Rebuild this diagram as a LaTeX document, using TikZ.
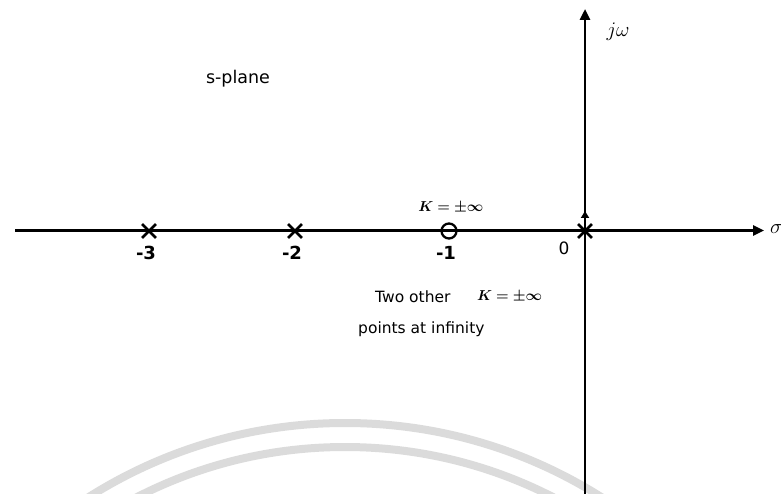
\documentclass[tikz,border=0pt]{standalone}
\usepackage{fontspec}
\usepackage{bm}
\setmainfont{DejaVu Sans}
\usetikzlibrary{arrows.meta,shapes.misc}
\begin{document}
\begin{tikzpicture}[x=1pt,y=-1pt,
  axis/.style={line width=2.6pt},
  tip/.style={-{Triangle[length=11pt,width=10pt]}},
  pole/.style={cross out,draw,minimum size=11pt,inner sep=0pt,line width=2.8pt},
  zero/.style={circle,draw,minimum size=15pt,inner sep=0pt,line width=2.3pt},
  num/.style={font=\fontsize{18}{20}\selectfont\bfseries,inner sep=0pt},
  txt/.style={font=\fontsize{15.5}{17}\selectfont,inner sep=0pt},
  kinf/.style={font=\fontsize{13.5}{15}\selectfont,inner sep=0pt},
  wm/.style={line width=8pt,color=black!14}]
\useasboundingbox (0,0) rectangle (781,494);
% faint watermark arcs
\begin{scope}
  \clip (0,0) rectangle (781,494);
  \draw[wm] (345,903) circle[radius=480pt];
  \draw[wm] (345,903) circle[radius=456pt];
\end{scope}
% axes
\coordinate (W) at (15,230.5);
\coordinate (E) at (764,230.5);
\coordinate (S) at (585,494);
\coordinate (N) at (585,9);
\coordinate (O) at (585,230.5);
\coordinate (U) at (585,211);
\draw[axis,tip] (W) -- (E);
\draw[axis,tip] (S) -- (N);
\draw[axis,-{Triangle[length=7pt,width=8pt]}] (O) -- (U);
% poles and zero
\node[pole] (p3) at (149,231) {};
\node[pole] (p2) at (295,231) {};
\node[pole] (p0) at (585,231) {};
\node[zero] (z1) at (449,231) {};
% labels
\node[num] (l3) at (146,253) {-3};
\node[num] (l2) at (292,253) {-2};
\node[num] (l1) at (446,253) {-1};
\node[font=\fontsize{17}{19}\selectfont,inner sep=0pt] (l0) at (564,248) {0};
\node[font=\fontsize{21}{23}\selectfont,inner sep=0pt,anchor=west] (sig) at (770,229) {$\sigma$};
\node[font=\fontsize{21}{23}\selectfont,inner sep=0pt] (jw) at (618,32) {$j\omega$};
\node[font=\fontsize{17.5}{19}\selectfont,inner sep=0pt] (sp) at (238,79) {s-plane};
\node[kinf] (k1) at (451,208) {$\bm{K=\pm\infty}$};
\node[txt,anchor=west] (two) at (375,297) {Two other};
\node[kinf,anchor=west] (k2) at (477,297) {$\bm{K=\pm\infty}$};
\node[txt,anchor=west] (pts) at (358,329) {points at infinity};
\end{tikzpicture}
\end{document}
